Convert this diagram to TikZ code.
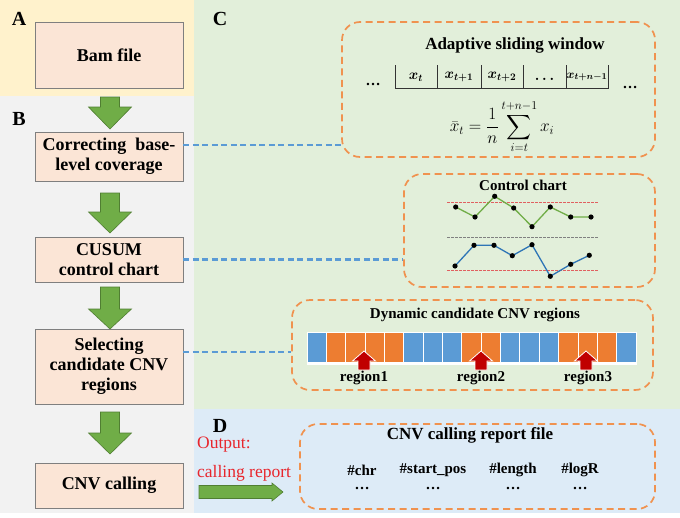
\documentclass[tikz,border=0pt]{standalone}
\usepackage{amsmath}
\usepackage{fontspec}
\setmainfont{Liberation Serif}
\usetikzlibrary{calc}
\definecolor{panA}{HTML}{FFF2CC}
\definecolor{panB}{HTML}{F2F2F2}
\definecolor{panC}{HTML}{E2EFDA}
\definecolor{panD}{HTML}{DDEBF7}
\definecolor{boxfill}{HTML}{FBE5D6}
\definecolor{boxline}{HTML}{7F7F7F}
\definecolor{gfill}{HTML}{70AD47}
\definecolor{gline}{HTML}{507E32}
\definecolor{dorange}{HTML}{F0924F}
\definecolor{dblue}{HTML}{5B9BD5}
\definecolor{cblue}{HTML}{2E75B6}
\definecolor{cellblue}{HTML}{5B9BD5}
\definecolor{cellorange}{HTML}{ED7D31}
\definecolor{darkred}{HTML}{C00000}
\definecolor{outred}{HTML}{E8262D}
\definecolor{limred}{HTML}{E06060}
\newcommand\GArrow[4]{\path[garrow] (#1-9.5,#2) -- (#1+9.5,#2) -- (#1+9.5,#3) -- (#1+21.5,#3) -- (#1,#4) -- (#1-21.5,#3) -- (#1-9.5,#3) -- cycle;}
\newcommand\RArrow[1]{\path[rarrow] (#1-6,370) -- (#1-6,361) -- (#1-11.5,361) -- (#1,351) -- (#1+11.5,361) -- (#1+6,361) -- (#1+6,370) -- cycle;}
\begin{document}
\begin{tikzpicture}[x=1pt,y=-1pt,
  stepbox/.style={draw=boxline, fill=boxfill, line width=0.8pt, minimum width=148pt, align=center, font=\fontsize{18}{20}\selectfont\bfseries, inner sep=0pt},
  dbox/.style={draw=dorange, dash pattern=on 7pt off 4.5pt, line width=1.7pt, rounded corners=18pt, inner sep=0pt},
  link/.style={draw=dblue, line width=2.2pt, dash pattern=on 6pt off 3.5pt},
  garrow/.style={fill=gfill, draw=gline, line width=0.6pt},
  rarrow/.style={fill=darkred, draw=white, line width=0.8pt},
  plabel/.style={font=\fontsize{20}{22}\selectfont\bfseries, inner sep=0pt},
  ttl/.style={font=\fontsize{17}{19}\selectfont\bfseries, inner sep=0pt},
  ttls/.style={font=\fontsize{15}{17}\selectfont\bfseries, inner sep=0pt},
  col/.style={font=\fontsize{15}{17}\selectfont\bfseries, inner sep=0pt},
  cellt/.style={font=\fontsize{14}{16}\selectfont\boldmath, inner sep=0pt},
  pt/.style={fill=black, draw=none}
]
\useasboundingbox (0,0) rectangle (680,517);
% panels
\fill[panA] (0,0) rectangle (194,96);
\fill[panB] (0,96) rectangle (194,513);
\fill[panC] (194,0) rectangle (680,409);
\fill[panD] (194,409) rectangle (680,513);
\node[plabel] (lA) at (19,19) {A};
\node[plabel] (lB) at (19,119) {B};
\node[plabel] (lC) at (220,19) {C};
\node[plabel] (lD) at (220,426) {D};

% step boxes
\node[stepbox, minimum height=66pt] (bam) at (109,55) {Bam file};
\node[stepbox, minimum height=49pt] (corr) at (109,156.5) {Correcting \ base-\\level coverage};
\node[stepbox, minimum height=45pt] (cusum) at (109,259.5) {CUSUM\\control chart};
\node[stepbox, minimum height=75pt] (sel) at (109,366.5) {Selecting\\candidate CNV\\regions};
\node[stepbox, minimum height=45pt] (call) at (109,485.5) {CNV calling};

% green arrows
\GArrow{110}{97}{107}{129}
\GArrow{110}{193}{212}{233}
\GArrow{110}{287}{309}{329}
\GArrow{110}{412}{433}{454}

% dashed boxes
\node[dbox, minimum width=313pt, minimum height=135pt] (win) at (498.5,89.5) {};
\node[dbox, minimum width=251pt, minimum height=113pt] (ctrl) at (529.5,230.5) {};
\node[dbox, minimum width=361pt, minimum height=90pt] (dyn) at (472.5,345) {};
\node[dbox, minimum width=355pt, minimum height=85pt] (rep) at (477.5,466.5) {};

% links
\draw[link] (corr.east |- 0,145) -- (win.west |- 0,145);
\draw[link] (cusum.east) -- (ctrl.west |- cusum.east);
\draw[link] (sel.east |- 0,352) -- (dyn.west |- 0,352);

% adaptive sliding window
\node[ttl] (wt) at (515,45) {Adaptive sliding window};
\node[font=\fontsize{15}{17}\selectfont\bfseries, inner sep=0pt] (wdl) at (373,84) {\ldots};
\node[font=\fontsize{15}{17}\selectfont\bfseries, inner sep=0pt] (wdr) at (630,87) {\ldots};
\draw[line width=0.9pt, black!80] (395,65) -- (395,88) -- (608,88) -- (608,65);
\foreach \xx in {437,481,523,566} \draw[line width=0.9pt, black!80] (\xx,65) -- (\xx,88);
\node[cellt] (c1) at (416,77) {$x_t$};
\node[cellt] (c2) at (459,77) {$x_{t+1}$};
\node[cellt] (c3) at (502,77) {$x_{t+2}$};
\node[cellt] (c4) at (544.5,79) {$\ldots$};
\node[cellt, font=\fontsize{13}{15}\selectfont\boldmath] (c5) at (587,77) {$x_{t+n-1}$};
\node[font=\fontsize{18}{20}\selectfont, inner sep=0pt] (form) at (502,127) {$\displaystyle \bar{x}_t=\frac{1}{n}\sum_{i=t}^{t+n-1} x_i$};

% control chart
\node[ttls] (ct) at (523,185) {Control chart};
\draw[limred, line width=0.8pt, dash pattern=on 2.5pt off 1.5pt] (447,202) -- (599,202);
\draw[gray, line width=0.9pt, dash pattern=on 2.5pt off 1.5pt] (447,237) -- (599,237);
\draw[limred, line width=0.8pt, dash pattern=on 2.5pt off 1.5pt] (447,270) -- (599,270);
\draw[gfill, line width=1.3pt] (455.7,207) -- (475,217) -- (494.7,196.3) -- (513.7,208) -- (532,226.7) -- (550.3,207) -- (570.7,217) -- (591,217);
\draw[cblue, line width=1.3pt] (455,266) -- (474,245.3) -- (494,245.3) -- (512.3,255.7) -- (532,244.7) -- (550.3,276.3) -- (570.7,264.3) -- (589.3,255.3);
\foreach \p in {(455.7,207),(475,217),(494.7,196.3),(513.7,208),(532,226.7),(550.3,207),(570.7,217),(591,217),(455,266),(474,245.3),(494,245.3),(512.3,255.7),(532,244.7),(550.3,276.3),(570.7,264.3),(589.3,255.3)}
  \fill[pt] \p circle (2.6pt);

% dynamic candidate regions
\node[ttls] (dt) at (475,315) {Dynamic candidate CNV regions};
\foreach \c [count=\i from 0] in {cellblue,cellorange,cellorange,cellorange,cellorange,cellblue,cellblue,cellblue,cellorange,cellorange,cellblue,cellblue,cellblue,cellorange,cellorange,cellorange,cellblue}
  \filldraw[fill=\c, draw=white, line width=0.8pt] (307+\i*19.35,332) rectangle (307+\i*19.35+19.35,362);
\draw[white, line width=2.5pt] (307,363.5) -- (636.5,363.5);
\RArrow{364}
\RArrow{481}
\RArrow{586}
\node[ttls] (r1) at (364,378) {region1};
\node[ttls] (r2) at (481,378) {region2};
\node[ttls] (r3) at (588,378) {region3};

% report
\node[font=\fontsize{17.5}{19}\selectfont, text=outred, inner sep=0pt, anchor=west] (o1) at (197,445) {Output:};
\node[font=\fontsize{17.5}{19}\selectfont, text=outred, inner sep=0pt, anchor=west] (o2) at (197,473) {calling report};
\path[garrow] (199,485.5) -- (272,485.5) -- (272,483) -- (283,492) -- (272,501) -- (272,498.5) -- (199,498.5) -- cycle;
\node[ttl] (rt) at (470,435) {CNV calling report file};
\node[col] (h1) at (362,470) {\#chr};
\node[col] (h2) at (433,470) {\#start\_pos};
\node[col] (h3) at (513,470) {\#length};
\node[col] (h4) at (580,470) {\#logR};
\foreach \xx/\nm in {362/d1,433/d2,513/d3,580/d4} \node[col] (\nm) at (\xx,488) {\ldots};
\end{tikzpicture}
\end{document}
